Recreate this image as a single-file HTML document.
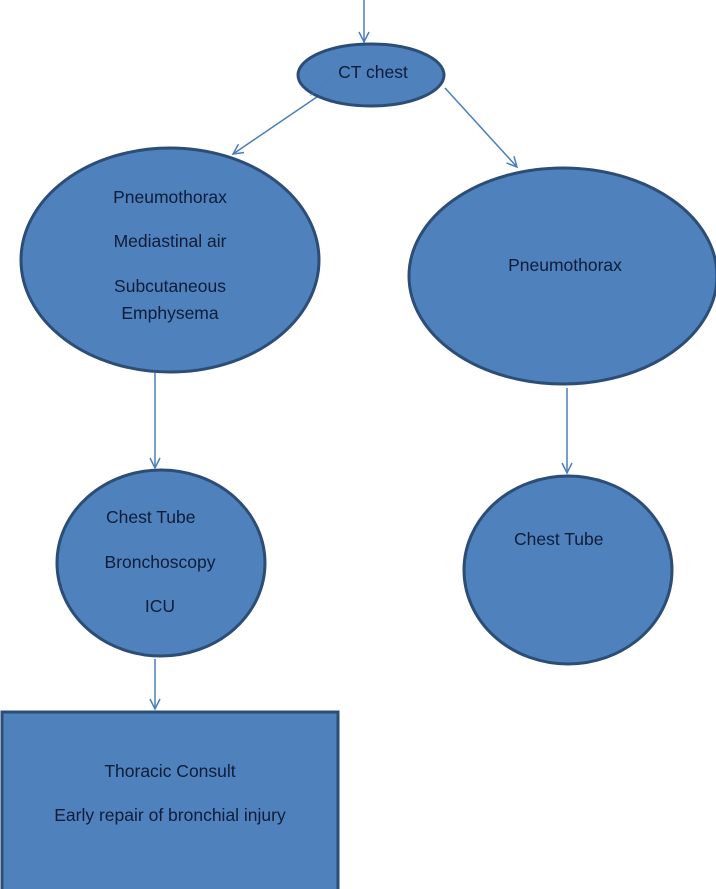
<!DOCTYPE html>
<html><head><meta charset="utf-8"><style>
html,body{margin:0;padding:0;background:#fff}
svg{display:block}
text{font-family:"Liberation Sans",sans-serif;font-size:17.5px;fill:#0f1d38}
</style></head><body>
<svg width="716" height="889" viewBox="0 0 716 889" xmlns="http://www.w3.org/2000/svg">
<defs><marker id="a" markerWidth="14" markerHeight="14" refX="11" refY="6" orient="auto" markerUnits="userSpaceOnUse"><path d="M1,1 L11,6 L1,11" fill="none" stroke="#4a7ebb" stroke-width="1.5"/></marker></defs>
<g stroke="#4a7ebb" stroke-width="1.5" fill="none" marker-end="url(#a)">
<line x1="364" y1="0" x2="364" y2="42"/>
<line x1="336" y1="84" x2="233" y2="154"/>
<line x1="445" y1="88" x2="517" y2="167"/>
<line x1="155" y1="373" x2="155" y2="468"/>
<line x1="567" y1="388" x2="567" y2="473"/>
<line x1="155" y1="659" x2="155" y2="709"/>
</g>
<g fill="#4f81bd" stroke="#2c4d75" stroke-width="3">
<ellipse cx="371" cy="75" rx="73" ry="31"/>
<ellipse cx="170" cy="260" rx="149" ry="112"/>
<ellipse cx="563" cy="276" rx="154" ry="108"/>
<ellipse cx="161" cy="563" rx="104" ry="93"/>
<ellipse cx="568" cy="570" rx="104" ry="94"/>
<rect x="2" y="712" width="336" height="190"/>
</g>
<line x1="364" y1="48" x2="310" y2="96" stroke="#4a7ebb" stroke-width="1" opacity="0.5"/>
<g text-anchor="middle">
<text x="373" y="78">CT chest</text>
<text x="170" y="203">Pneumothorax</text>
<text x="170" y="247">Mediastinal air</text>
<text x="170" y="292">Subcutaneous</text>
<text x="170" y="319">Emphysema</text>
<text x="565" y="271">Pneumothorax</text>
<text x="160" y="568">Bronchoscopy</text>
<text x="160" y="612">ICU</text>
<text x="170" y="777">Thoracic Consult</text>
<text x="170" y="821">Early repair of bronchial injury</text>
</g>
<text x="106" y="523">Chest Tube</text>
<text x="514" y="545">Chest Tube</text>
</svg>
</body></html>
